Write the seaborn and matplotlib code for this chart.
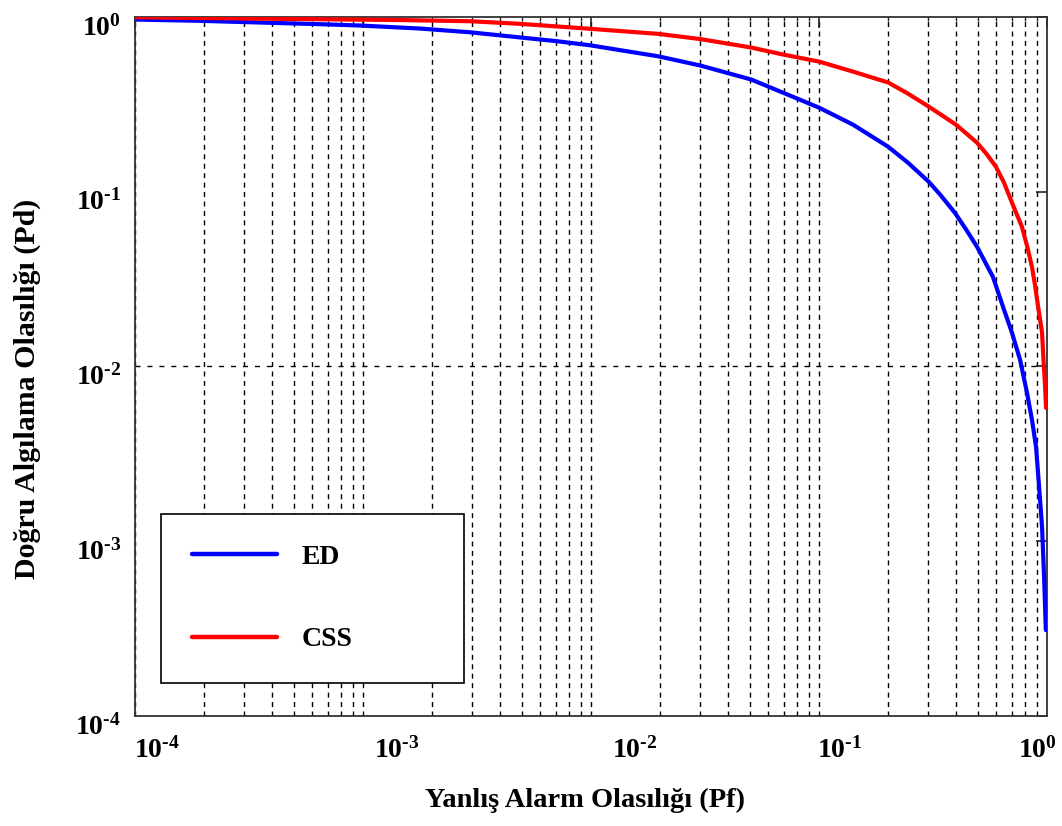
import numpy as np
import pandas as pd
import matplotlib
matplotlib.use("Agg")
import matplotlib.pyplot as plt
import seaborn as sns
from matplotlib.ticker import FixedLocator, LogLocator, NullLocator, FuncFormatter
from matplotlib.transforms import ScaledTranslation

# ROC curves: probability of detection vs probability of false alarm
pf_ed = [1.0e-4, 1.93e-4, 3.53e-4, 6.47e-4, 9.7e-4, 1.78e-3, 2.94e-3, 4.07e-3,
         7.10e-3, 9.9e-3, 0.0197, 0.0301, 0.0504, 0.0695, 0.100, 0.141, 0.201,
         0.245, 0.303, 0.340, 0.394, 0.442, 0.493, 0.579, 0.641, 0.702, 0.762,
         0.817, 0.859, 0.895, 0.923, 0.951, 0.971, 0.988]
pd_ed = [0.967, 0.951, 0.930, 0.910, 0.894, 0.859, 0.818, 0.783, 0.727, 0.689,
         0.596, 0.528, 0.439, 0.369, 0.303, 0.242, 0.181, 0.147, 0.114, 0.0962,
         0.0759, 0.0607, 0.0485, 0.0326, 0.0220, 0.0156, 0.0109, 7.07e-3,
         4.95e-3, 3.47e-3, 2.05e-3, 1.21e-3, 6.24e-4, 3.10e-4]

pf_css = [1.0e-4, 3.19e-4, 1.45e-3, 2.94e-3, 4.89e-3, 9.59e-3, 0.0197, 0.0301,
          0.0504, 0.0695, 0.100, 0.141, 0.201, 0.245, 0.303, 0.399, 0.493,
          0.546, 0.597, 0.647, 0.702, 0.776, 0.817, 0.859, 0.885, 0.914, 0.951,
          0.965, 0.980, 0.990]
pd_css = [0.997, 0.980, 0.961, 0.946, 0.914, 0.859, 0.801, 0.748, 0.669, 0.610,
          0.556, 0.487, 0.422, 0.365, 0.307, 0.242, 0.191, 0.163, 0.139, 0.113,
          0.0866, 0.0631, 0.0491, 0.0372, 0.0294, 0.0220, 0.0156, 0.0109,
          7.85e-3, 5.8e-3]

methods = ["ED", "CSS"]
colors = {"ED": "#0000ff", "CSS": "#ff0000"}
x_ticks = [1e-4, 1e-3, 1e-2, 1e-1, 1e0]
y_ticks = [1e-4, 1e-3, 1e-2, 1e-1, 1e0]
y_grid_at = [1e-2]

x_label = "Yanlış Alarm Olasılığı (Pf)"
y_label = "Doğru Algılama Olasılığı (Pd)"

df = pd.concat([
    pd.DataFrame({"Pf": pf_ed, "Pd": pd_ed, "method": "ED"}),
    pd.DataFrame({"Pf": pf_css, "Pd": pd_css, "method": "CSS"}),
], ignore_index=True)

sns.set_theme(style="white")
plt.rcParams["font.family"] = ["Liberation Serif", "DejaVu Serif"]
plt.rcParams["font.weight"] = "bold"
plt.rcParams["text.color"] = "black"
plt.rcParams["axes.labelcolor"] = "black"
plt.rcParams["mathtext.fontset"] = "custom"
plt.rcParams["mathtext.rm"] = "Liberation Serif:bold"
plt.rcParams["mathtext.bf"] = "Liberation Serif:bold"
plt.rcParams["mathtext.it"] = "Liberation Serif:bold:italic"

fig = plt.figure(figsize=(10.62, 8.26), dpi=100)
ax = fig.add_axes([0.1271, 0.1332, 0.8588, 0.8462])

sns.lineplot(data=df, x="Pf", y="Pd", hue="method", hue_order=methods,
             palette=colors, sort=False, estimator=None,
             linewidth=3, ax=ax, zorder=3)

ax.set_xscale("log")
ax.set_yscale("log")
ax.set_xlim(1e-4, 1)
ax.set_ylim(1e-4, 1)

ax.xaxis.set_major_locator(FixedLocator(x_ticks))
ax.xaxis.set_minor_locator(LogLocator(base=10, subs=np.arange(2, 10)))
ax.yaxis.set_major_locator(FixedLocator(y_ticks))
ax.yaxis.set_minor_locator(NullLocator())


def decade_label(v, pos):
    e = int(round(np.log10(v)))
    if e < 0:
        return r"$\mathbf{10^{\text{-}%d}}$" % (-e)
    return r"$\mathbf{10^{%d}}$" % e


fmt = FuncFormatter(decade_label)
ax.xaxis.set_major_formatter(fmt)
ax.yaxis.set_major_formatter(fmt)

ax.tick_params(which="both", direction="in", top=True, right=True,
               color="#222222", labelcolor="black")
ax.tick_params(which="major", length=8, width=1.2, labelsize=20)
ax.tick_params(axis="x", which="major", pad=15)
ax.tick_params(axis="y", which="major", pad=10)
ax.tick_params(which="minor", length=3, width=1.0)

# dashed grid: every decade and sub-decade on x, a single level on y
dash = (0, (3.6, 3.2))
ax.grid(False)
ax.xaxis.grid(True, which="both", color="black", linestyle=dash, linewidth=1.0)
ax.yaxis.grid(True, which="major", color="black", linestyle=(0, (3.6, 5.0)), linewidth=1.0)
for tick, loc in zip(ax.yaxis.get_major_ticks(), ax.get_yticks()):
    tick.gridline.set_visible(any(np.isclose(loc, g) for g in y_grid_at))
ax.set_axisbelow(True)

for s in ax.spines.values():
    s.set_visible(True)
    s.set_color("#333333")
    s.set_linewidth(1.3)

# tick label nudges (pixels)
x_shift = [22, 34, 44, 21, -10]
for lab, dx in zip(ax.get_xticklabels(), x_shift):
    lab.set_transform(lab.get_transform() + ScaledTranslation(dx / 100, 0, fig.dpi_scale_trans))
for lab in ax.get_yticklabels():
    lab.set_transform(lab.get_transform() + ScaledTranslation(0, -8 / 100, fig.dpi_scale_trans))

ax.set_xlabel(x_label, fontsize=20.5, fontweight="bold", color="black")
ax.set_ylabel(y_label, fontsize=21.5, fontweight="bold", color="black")
ax.xaxis.set_label_coords(0.4934, -0.103)
ax.yaxis.set_label_coords(-0.103, 0.468)

sns.move_legend(ax, "upper left", bbox_to_anchor=(0.0285, 0.0458, 0.332, 0.2432),
                mode="expand", title=None, frameon=True, fancybox=False,
                framealpha=1, edgecolor="black", borderpad=1.1,
                labelspacing=2.05, handlelength=3.06,
                handletextpad=0.9, borderaxespad=0, labelcolor="black",
                prop={"size": 20, "weight": "bold", "family": "Liberation Serif"})
leg = ax.get_legend()
leg.get_frame().set_linewidth(1.2)
leg.set_zorder(5)
for h in leg.legend_handles:
    h.set_linewidth(3.2)

fig.savefig("out.png", dpi=100)
